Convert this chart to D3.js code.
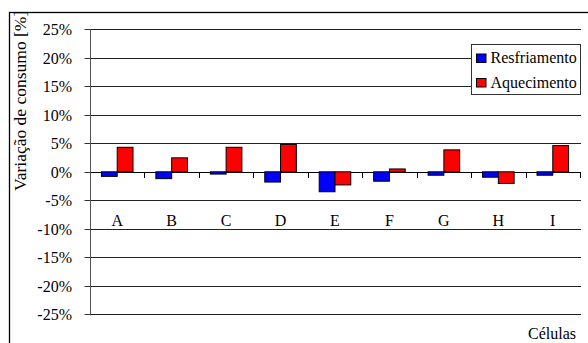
<!DOCTYPE html>
<html>
<head>
<meta charset="utf-8">
<script src="https://cdn.jsdelivr.net/npm/d3@7"></script>
<style>
  html, body { margin: 0; padding: 0; background: #fff; }
  svg { display: block; }
</style>
</head>
<body>
<svg id="chart" width="588" height="343"></svg>
<script>
// Consumption change per cell, in percent
const categories = ["A", "B", "C", "D", "E", "F", "G", "H", "I"];
const seriesNames = ["Resfriamento", "Aquecimento"];
const resfriamento = [-0.8, -1.2, -0.4, -1.8, -3.5, -1.65, -0.6, -0.95, -0.6];
const aquecimento = [4.3, 2.45, 4.3, 4.8, -2.3, 0.5, 3.85, -2.05, 4.6];
const yTicks = [-25, -20, -15, -10, -5, 0, 5, 10, 15, 20, 25];
const seriesColors = ["#0000ff", "#ff0000"];

const FONT = "Liberation Serif";
const svg = d3.select("#chart");
const W = 588, H = 343;
const plot = { left: 90, right: 580, top: 29.3, bottom: 314.3 };

// outer frame (only left and top edges fall inside the canvas)
svg.append("rect")
  .attr("x", 9.5).attr("y", 12.5)
  .attr("width", W + 20).attr("height", H + 20)
  .attr("fill", "#fff").attr("stroke", "#000").attr("stroke-width", 1.3);

svg.append("clipPath").attr("id", "frame")
  .append("rect").attr("x", 10).attr("y", 13).attr("width", W).attr("height", H);

const x0 = d3.scaleBand().domain(categories).range([plot.left, plot.right]).padding(0);
const bw = x0.bandwidth();
const x1 = d3.scaleBand().domain(seriesNames).range([0.21 * bw, 0.79 * bw]).padding(0);
const y = d3.scaleLinear().domain([-25, 25]).range([plot.bottom, plot.top]);
const py = v => Math.round(y(v)) + 0.5;

// horizontal grid lines
svg.append("g").selectAll("line").data(yTicks).join("line")
  .attr("x1", plot.left).attr("x2", plot.right + 1)
  .attr("y1", py).attr("y2", py)
  .attr("stroke", d => d === 0 ? "#000" : "#222").attr("stroke-width", 1);

// y axis line and ticks
const yAxis = d3.axisLeft(y).tickValues(yTicks).tickSize(6).tickFormat("");
const gy = svg.append("g").attr("transform", `translate(${plot.left + 0.5},0)`).call(yAxis);
gy.select(".domain").attr("stroke", "#555").attr("d", `M0,${plot.top}V${plot.bottom + 1}`);
gy.selectAll(".tick").attr("transform", d => `translate(0,${py(d)})`);
gy.selectAll(".tick line").attr("stroke", "#333");

// y tick labels
svg.append("g").selectAll("text").data(yTicks).join("text")
  .attr("x", 72).attr("y", d => py(d) + 5.5)
  .attr("text-anchor", "end")
  .attr("font-family", FONT).attr("font-size", 16).attr("fill", "#000")
  .text(d => d + "%");

// category boundary ticks along the zero line
const bounds = categories.map(c => x0(c) + bw);
svg.append("g").selectAll("line").data(bounds).join("line")
  .attr("x1", d => Math.round(d) + 0.5).attr("x2", d => Math.round(d) + 0.5)
  .attr("y1", Math.round(y(0))).attr("y2", Math.round(y(0)) + 6)
  .attr("stroke", "#000").attr("stroke-width", 1);

// bars
const rows = categories.map((c, i) => ({ cat: c, values: [resfriamento[i], aquecimento[i]] }));
const groups = svg.append("g").selectAll("g").data(rows).join("g")
  .attr("transform", d => `translate(${x0(d.cat)},0)`);
groups.selectAll("rect").data(d => d.values.map((v, j) => ({ name: seriesNames[j], v, j })))
  .join("rect")
  .attr("x", d => x1(d.name))
  .attr("width", x1.bandwidth())
  .attr("y", d => Math.min(y(d.v), y(0)))
  .attr("height", d => Math.abs(y(d.v) - y(0)))
  .attr("fill", d => seriesColors[d.j])
  .attr("stroke", "#000").attr("stroke-width", 1);

// category labels
svg.append("g").selectAll("text").data(categories).join("text")
  .attr("x", d => x0(d) + bw / 2).attr("y", 225.5)
  .attr("text-anchor", "middle")
  .attr("font-family", FONT).attr("font-size", 16).attr("fill", "#000")
  .text(d => d);

// axis titles
svg.append("text")
  .attr("x", 576).attr("y", 339)
  .attr("text-anchor", "end")
  .attr("font-family", FONT).attr("font-size", 16).attr("fill", "#000")
  .text("Células");

svg.append("g").attr("clip-path", "url(#frame)")
  .append("text")
  .attr("transform", "translate(26,191) rotate(-90)")
  .attr("font-family", FONT).attr("font-size", 17.5).attr("fill", "#000")
  .text("Variação de consumo [%]");

// legend
const lg = svg.append("g");
lg.append("rect")
  .attr("x", 471.5).attr("y", 44.5).attr("width", 109).attr("height", 50)
  .attr("fill", "#fff").attr("stroke", "#333").attr("stroke-width", 1);
seriesNames.forEach((name, i) => {
  const cy = 58 + i * 24.5;
  lg.append("rect")
    .attr("x", 476.5).attr("y", cy - 4).attr("width", 9.5).attr("height", 8.5)
    .attr("fill", seriesColors[i]).attr("stroke", "#000").attr("stroke-width", 1);
  lg.append("text")
    .attr("x", 490.5).attr("y", cy + 5)
    .attr("font-family", FONT).attr("font-size", 16).attr("fill", "#000")
    .text(name);
});
</script>
</body>
</html>
